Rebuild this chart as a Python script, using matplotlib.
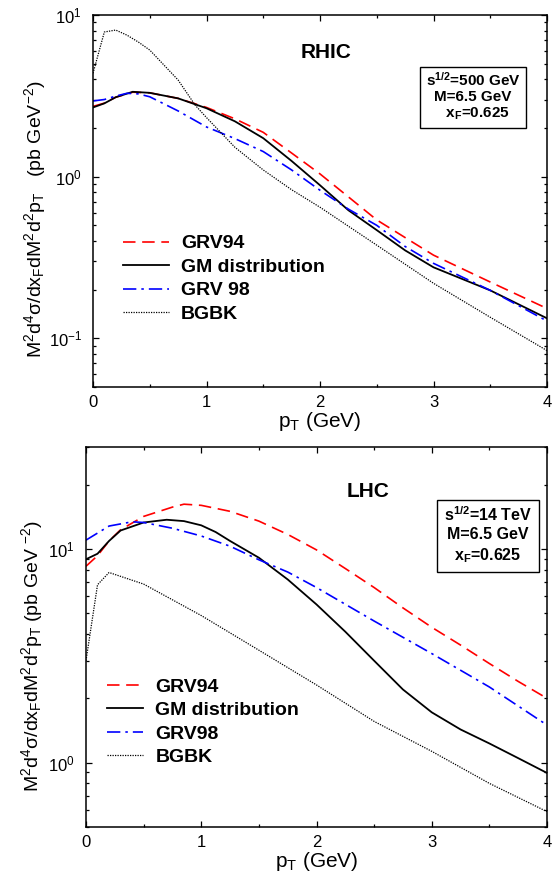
import numpy as np
import matplotlib
matplotlib.use("Agg")
import matplotlib.pyplot as plt
from matplotlib.ticker import LogLocator, MultipleLocator, NullFormatter

# Fonts: Arial-like everywhere, math pieces in the same font
plt.rcParams.update({'font.family': 'Liberation Sans',
                     'mathtext.fontset': 'custom',
                     'mathtext.rm': 'Liberation Sans',
                     'mathtext.it': 'Liberation Sans:italic',
                     'mathtext.bf': 'Liberation Sans:bold',
                     'mathtext.default': 'regular'})

# ---------------- RHIC (top panel) ----------------
rhic_pt_grv94 = [0, 0.1, 0.2, 0.35, 0.5, 0.75, 1.0, 1.25, 1.5, 1.75, 2.0, 2.25, 2.5, 2.75, 3.0, 3.5, 4.0]
rhic_grv94 = [2.72, 2.85, 3.1, 3.33, 3.3, 3.05, 2.68, 2.28, 1.88, 1.40, 1.04, 0.75, 0.54, 0.42, 0.327, 0.223, 0.153]
rhic_pt_gm = [0, 0.1, 0.2, 0.35, 0.5, 0.75, 1.0, 1.25, 1.5, 1.75, 2.0, 2.25, 2.5, 2.75, 3.0, 3.5, 4.0]
rhic_gm = [2.68, 2.84, 3.1, 3.35, 3.3, 3.05, 2.65, 2.2, 1.73, 1.25, 0.885, 0.62, 0.467, 0.35, 0.275, 0.198, 0.133]
rhic_pt_grv98 = [0, 0.1, 0.2, 0.3, 0.4, 0.5, 0.75, 1.0, 1.25, 1.5, 1.75, 2.0, 2.25, 2.5, 2.75, 3.0, 3.5, 4.0]
rhic_grv98 = [2.94, 3.0, 3.15, 3.28, 3.25, 3.12, 2.55, 2.03, 1.72, 1.43, 1.1, 0.824, 0.63, 0.50, 0.37, 0.291, 0.198, 0.128]
rhic_pt_bgbk = [0, 0.1, 0.2, 0.3, 0.4, 0.5, 0.75, 0.9, 1.0, 1.25, 1.5, 1.75, 2.0, 2.5, 3.0, 3.5, 4.0]
rhic_bgbk = [4.36, 7.85, 8.07, 7.5, 6.8, 6.07, 3.96, 2.77, 2.32, 1.52, 1.10, 0.83, 0.647, 0.377, 0.219, 0.135, 0.084]

# ---------------- LHC (bottom panel) ----------------
lhc_pt_grv94 = [0, 0.1, 0.2, 0.3, 0.5, 0.75, 0.85, 1.0, 1.25, 1.5, 1.75, 2.0, 2.25, 2.5, 2.75, 3.0, 3.25, 3.5,
                3.75, 4.0]
lhc_grv94 = [8.3, 9.3, 10.9, 12.3, 14.2, 15.7, 16.2, 16.0, 15.0, 13.5, 11.7, 9.9, 8.1, 6.6, 5.3, 4.3, 3.55, 2.91,
             2.4, 2.0]
lhc_pt_gm = [0, 0.1, 0.2, 0.3, 0.5, 0.7, 0.85, 1.0, 1.125, 1.25, 1.5, 1.75, 2.0, 2.25, 2.5, 2.75, 3.0, 3.25, 3.5,
             3.75, 4.0]
lhc_gm = [8.95, 9.5, 10.9, 12.2, 13.3, 13.7, 13.5, 12.9, 12.0, 10.9, 9.1, 7.2, 5.5, 4.1, 3.0, 2.2, 1.72, 1.43, 1.23,
          1.05, 0.895]
lhc_pt_grv98 = [0, 0.2, 0.4, 0.5, 0.75, 1.0, 1.25, 1.5, 1.75, 2.0, 2.5, 3.0, 3.5, 4.0]
lhc_grv98 = [11.0, 12.8, 13.4, 13.3, 12.5, 11.5, 10.3, 8.9, 7.8, 6.6, 4.6, 3.24, 2.26, 1.50]
lhc_pt_bgbk = [0, 0.1, 0.2, 0.5, 1.0, 1.5, 2.0, 2.5, 3.0, 3.5, 4.0]
lhc_bgbk = [3.0, 6.8, 7.76, 6.85, 4.88, 3.36, 2.31, 1.56, 1.13, 0.80, 0.59]

labels_rhic = ["GRV94", "GM distribution", "GRV 98", "BGBK"]
labels_lhc = ["GRV94", "GM distribution", "GRV98", "BGBK"]


def decorate(ax, ylim):
    ax.set_yscale('log')
    ax.set_xlim(0, 4)
    ax.set_ylim(*ylim)
    ax.xaxis.set_major_locator(MultipleLocator(1))
    ax.xaxis.set_minor_locator(MultipleLocator(0.5))
    ax.yaxis.set_major_locator(LogLocator(base=10))
    ax.yaxis.set_minor_locator(LogLocator(base=10, subs=np.arange(2, 10)))
    ax.yaxis.set_minor_formatter(NullFormatter())
    ax.tick_params(which='both', direction='in', top=True, right=True, labelsize=12, width=0.9)
    ax.tick_params(which='major', length=4.5)
    ax.tick_params(which='minor', length=2.5)
    ax.tick_params(axis='y', pad=8)
    ax.tick_params(axis='x', pad=6)
    for sp in ax.spines.values():
        sp.set_linewidth(1.1)
    ax.set_xlabel("p$_T$ (GeV)", fontsize=15, labelpad=0)


def plot_curves(ax, data, labels):
    styles = [dict(color='#ff0000', lw=1.2, dashes=(7.5, 4)),
              dict(color='black', lw=1.3),
              dict(color='#0000ff', lw=1.2, dashes=(8, 3, 1.5, 3)),
              dict(color='black', lw=0.9, dashes=(1, 1))]
    for (x, y), lab, st in zip(data, labels, styles):
        ax.plot(x, y, label=lab, **st)


fig = plt.figure(figsize=(5.55, 8.77), dpi=100)

# Top panel
ax1 = fig.add_axes([93 / 555, (877 - 387) / 877, 454 / 555, 372 / 877])
plot_curves(ax1, [(rhic_pt_grv94, rhic_grv94), (rhic_pt_gm, rhic_gm),
                  (rhic_pt_grv98, rhic_grv98), (rhic_pt_bgbk, rhic_bgbk)], labels_rhic)
decorate(ax1, (0.05, 10))
ax1.set_ylabel("M$^2$d$^4$σ/dx$_F$dM$^2$d$^2$p$_T$   (pb GeV$^{-2}$)", fontsize=14, labelpad=2)
ax1.yaxis.set_label_coords(-0.099, 0.452)
ax1.text(0.513, 0.898, "RHIC", transform=ax1.transAxes, fontsize=15, fontweight='bold',
         ha='center', va='center')
ax1.text(0.837, 0.781, "s$^{1/2}$=500 GeV\nM=6.5 GeV\n  x$_F$=0.625", transform=ax1.transAxes,
         fontsize=11, fontweight='bold', ha='center', va='center', linespacing=1.15,
         bbox=dict(boxstyle='square,pad=0.35', fc='white', ec='black', lw=1.0))
ax1.legend(loc='upper left', bbox_to_anchor=(0.066, 0.409), frameon=False,
           prop={'weight': 'bold', 'size': 14}, handlelength=2.37, handletextpad=0.62,
           labelspacing=0.3, borderpad=0, borderaxespad=0)

# Bottom panel
ax2 = fig.add_axes([86 / 555, (877 - 827) / 877, 461 / 555, 380 / 877])
plot_curves(ax2, [(lhc_pt_grv94, lhc_grv94), (lhc_pt_gm, lhc_gm),
                  (lhc_pt_grv98, lhc_grv98), (lhc_pt_bgbk, lhc_bgbk)], labels_lhc)
decorate(ax2, (0.5, 30))
ax2.set_ylabel("M$^2$d$^4$σ/dx$_F$dM$^2$d$^2$p$_T$ (pb GeV $^{-2}$)", fontsize=14, labelpad=2)
ax2.yaxis.set_label_coords(-0.089, 0.45)
ax2.text(0.612, 0.882, "LHC", transform=ax2.transAxes, fontsize=15, fontweight='bold',
         ha='center', va='center')
ax2.text(0.872, 0.768, "s$^{1/2}$=14 TeV\nM=6.5 GeV\nx$_F$=0.625", transform=ax2.transAxes,
         fontsize=11.5, fontweight='bold', ha='center', va='center', linespacing=1.3,
         bbox=dict(boxstyle='square,pad=0.45', fc='white', ec='black', lw=1.0))
ax2.legend(loc='upper left', bbox_to_anchor=(0.046, 0.392), frameon=False,
           prop={'weight': 'bold', 'size': 14}, handlelength=1.86, handletextpad=0.62,
           labelspacing=0.3, borderpad=0, borderaxespad=0)

fig.savefig("out.png", dpi=100)
plt.close()
